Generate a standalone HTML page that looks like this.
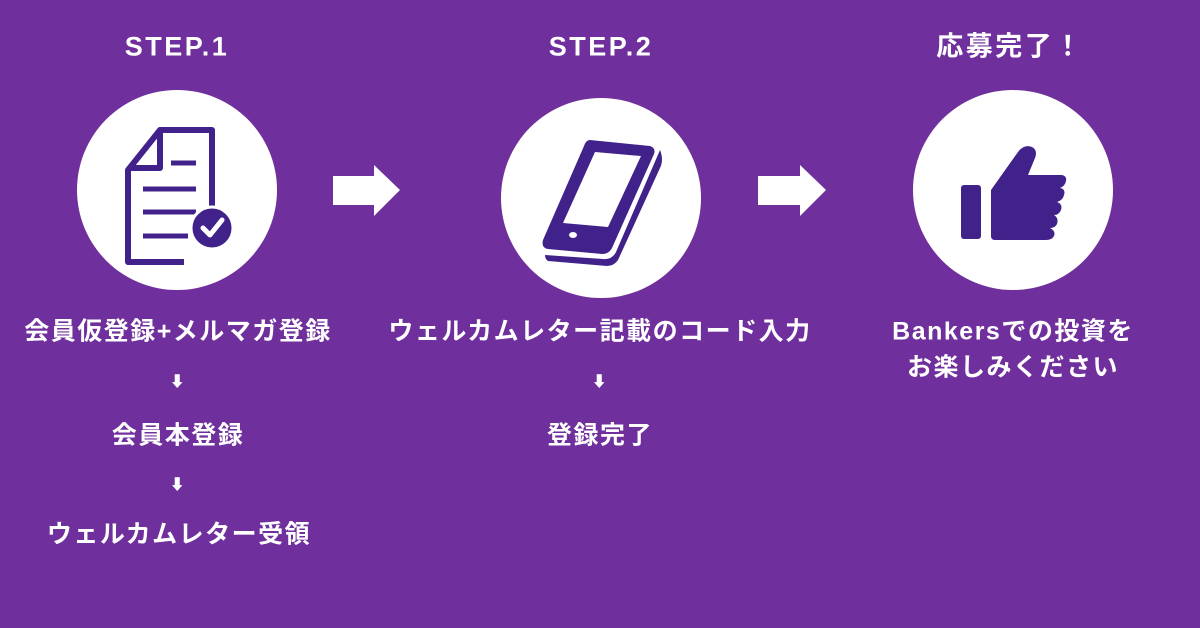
<!DOCTYPE html>
<html><head><meta charset="utf-8"><style>
body{margin:0;width:1200px;height:628px;background:#6f2f9c;overflow:hidden;position:relative;font-family:"Liberation Sans","Noto Sans CJK JP",sans-serif;color:#fff;font-weight:bold}
.t{position:absolute;width:600px;text-align:center;white-space:nowrap;transform:translate(-50%,-50%);font-size:25px;letter-spacing:1.5px;line-height:1}
.h{font-size:27px;letter-spacing:2.5px}
.a{font-size:15px}
.c{position:absolute;width:200px;height:200px;border-radius:50%;background:#fff}
svg{position:absolute;left:0;top:0}
</style></head><body>
<div class="t h" style="left:177px;top:47px">STEP.1</div>
<div class="t h" style="left:601px;top:47px">STEP.2</div>
<div class="t h" style="left:1010px;top:47px">応募完了！</div>
<div class="c" style="left:77px;top:90px"></div>
<div class="c" style="left:501px;top:98px"></div>
<div class="c" style="left:913px;top:90px"></div>
<svg width="1200" height="628">
<polygon points="333,176 374,176 374,165 400,190 374,216 374,205 333,205" fill="#fff"/>
<polygon points="758,176 800,176 800,165 826,190 800,216 800,205 758,205" fill="#fff"/>
<g fill="none" stroke="#41218a" stroke-width="6" stroke-linejoin="round">
<path d="M160,130 L212,130 L212,218 M184,262 L128,262 L128,170 L160,130 L160,168 L128,168"/>
</g>
<g stroke="#41218a" stroke-width="5">
<line x1="171" y1="163" x2="196" y2="163"/><line x1="143" y1="189" x2="196" y2="189"/>
<line x1="143" y1="212" x2="196" y2="212"/><line x1="143" y1="236" x2="188" y2="236"/>
</g>
<circle cx="212" cy="228" r="21" fill="#41218a" stroke="#fff" stroke-width="3"/>
<polyline points="203,228 210,235 222,220" fill="none" stroke="#fff" stroke-width="5" stroke-linecap="round" stroke-linejoin="round"/>
<path d="M590,140 L650,146 Q656,148 654,154 L612,248 Q609,254 602,254 L548,249 Q541,248 543,240 L584,146 Q586,140 590,140 Z" fill="#41218a"/>
<path d="M595,152 L641,156 L608,227 L563,223 Z" fill="#fff"/>
<ellipse cx="573" cy="235" rx="4" ry="3" fill="#fff"/>
<path d="M660,150 Q664,160 660,168 L618,260 Q614,266 607,266 L548,261 Q545,259 545,255 L603,259 Q612,260 616,252 Z" fill="#41218a"/>
<rect x="961" y="185" width="20" height="54" rx="3" fill="#41218a"/>
<path d="M991,190 L1018,152 Q1024,144 1032,147 Q1038,150 1035,158 L1028,175 L1062,175 Q1067,176 1066,181 Q1065,186 1060,188 Q1066,189 1064,195 Q1063,200 1057,202 Q1063,204 1061,210 Q1059,215 1054,215 Q1059,218 1057,224 Q1055,228 1050,228 Q1056,231 1054,236 Q1052,240 1046,240 L995,240 Q991,240 991,236 Z" fill="#41218a"/>
</svg>
<div class="t" style="left:178px;top:332px">会員仮登録+メルマガ登録</div>
<div class="t a" style="left:178px;top:382px">⬇</div>
<div class="t" style="left:178px;top:436px">会員本登録</div>
<div class="t a" style="left:178px;top:485px">⬇</div>
<div class="t" style="left:179px;top:535px">ウェルカムレター受領</div>
<div class="t" style="left:600px;top:332px">ウェルカムレター記載のコード入力</div>
<div class="t a" style="left:600px;top:382px">⬇</div>
<div class="t" style="left:600px;top:436px">登録完了</div>
<div class="t" style="left:1013px;top:332px">Bankersでの投資を</div>
<div class="t" style="left:1013px;top:368px">お楽しみください</div>
</body></html>
